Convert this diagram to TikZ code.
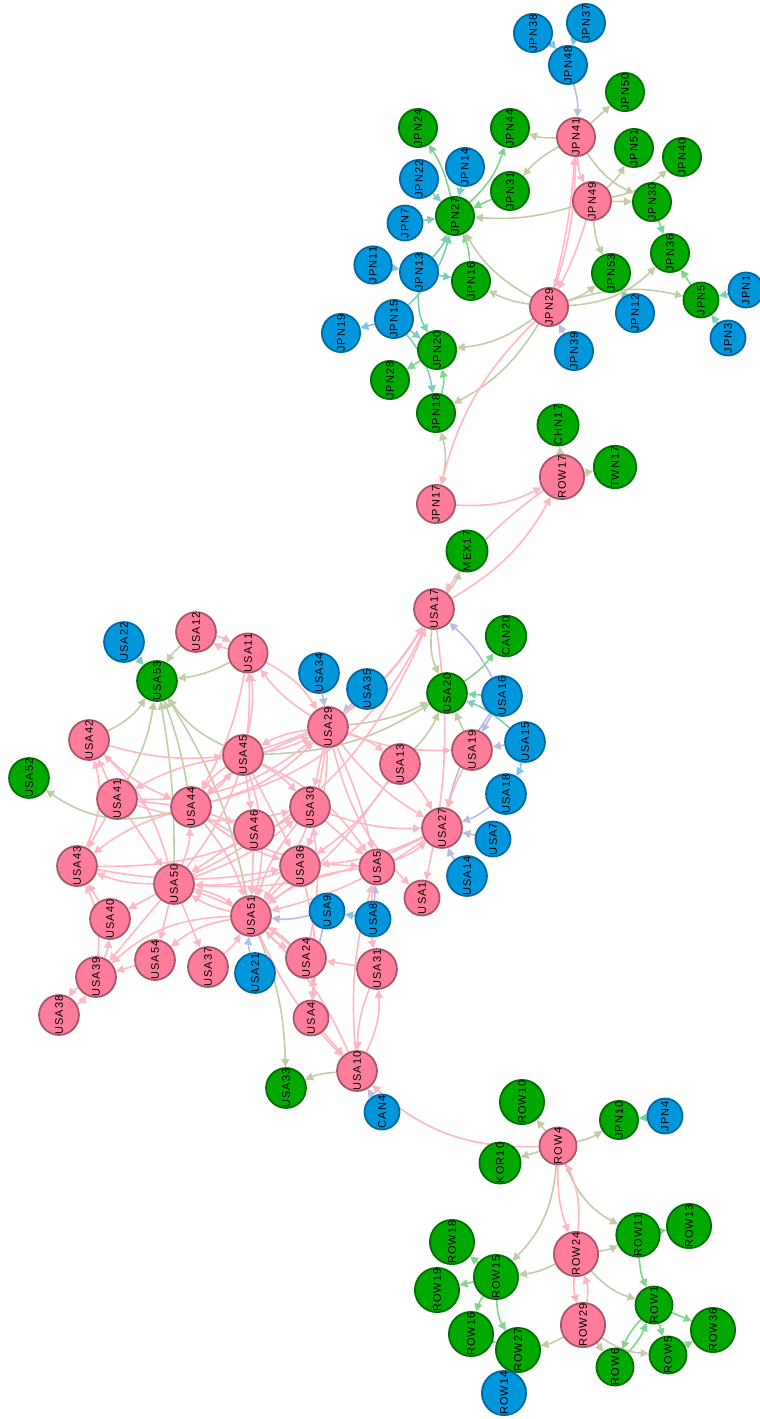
\documentclass[tikz,border=0pt]{standalone}
\usepackage{graphicx}
\usepackage{fontspec}
\newfontfamily\lblfont[LetterSpace=10]{Liberation Sans}
\usetikzlibrary{arrows.meta}
\pgfdeclarelayer{edges}
\pgfsetlayers{edges,main}
\definecolor{pkfill}{RGB}{255,125,155}
\definecolor{pkline}{RGB}{170,85,105}
\definecolor{grfill}{RGB}{0,168,0}
\definecolor{grline}{RGB}{0,112,0}
\definecolor{blfill}{RGB}{0,150,220}
\definecolor{blline}{RGB}{0,105,165}
\definecolor{pkedge}{RGB}{255,183,197}
\definecolor{sgedge}{RGB}{192,206,168}
\definecolor{gredge}{RGB}{128,214,140}
\definecolor{tledge}{RGB}{122,208,182}
\definecolor{lvedge}{RGB}{184,190,224}
\definecolor{bledge}{RGB}{125,196,236}
\tikzset{
  nd/.style={circle,minimum size=35pt,inner sep=0pt,line width=1.8pt,font={\lblfont\fontsize{11}{13}\selectfont}},
  pnode/.style={nd,fill=pkfill,draw=pkline},
  gnode/.style={nd,fill=grfill,draw=grline},
  bnode/.style={nd,fill=blfill,draw=blline},
  ed/.style={line width=1.6pt,-{Triangle[length=8pt,width=8pt]}},
  pe/.style={ed,draw=pkedge},
  ye/.style={ed,draw=sgedge},
  ge/.style={ed,draw=gredge},
  te/.style={ed,draw=tledge},
  le/.style={ed,draw=lvedge},
  be/.style={ed,draw=bledge}
}
\begin{document}
\begin{tikzpicture}[x=1pt,y=-1pt]
\useasboundingbox (0,0) rectangle (760,1419);
\foreach \n/\x/\y in {JPN41/576/137, JPN49/592/201, JPN29/549/307, JPN17/436/504, ROW17/562/477,
  USA12/196/632, USA11/248/653, USA17/434/609, USA29/328/727, USA42/89/740, USA45/243/755,
  USA19/472/750, USA13/400/764, USA41/117/799, USA44/191/807, USA30/310/807, USA27/442/828,
  USA46/254/830, USA43/77/866, USA36/300/866, USA5/377/867, USA50/174/884, USA1/422/898,
  USA51/251/916, USA40/110/919, USA24/306/958, USA54/155/960, USA37/208/967, USA31/377/969,
  USA39/96/977, USA38/59/1015, USA4/311/1018, USA10/357/1071, ROW4/558/1146, ROW24/576/1254,
  ROW29/583/1325}
  \node[pnode] (\n) at (\x,\y) {\rotatebox{90}{\n}};
\foreach \n/\x/\y in {JPN50/625/92, JPN24/418/128, JPN44/510/128, JPN51/634/148, JPN40/682/157,
  JPN31/510/191, JPN30/652/202, JPN27/455/216, JPN36/670/253, JPN16/471/281, JPN53/611/273,
  JPN5/701/300, JPN20/437/350, JPN28/390/380, JPN18/436/413, CHN17/558/425, TWN17/615/467,
  MEX17/467/551, CAN20/506/636, USA53/157/681, USA20/447/693, USA52/29/778, USA33/286/1088,
  ROW10/522/1102, JPN10/619/1120, KOR10/500/1163, ROW13/689/1226, ROW11/638/1235,
  ROW18/452/1242, ROW15/496/1277, ROW19/437/1290, ROW1/654/1305, ROW16/471/1334,
  ROW36/713/1330, ROW27/518/1350, ROW5/668/1355, ROW6/615/1367}
  \node[gnode] (\n) at (\x,\y) {\rotatebox{90}{\n}};
\foreach \n/\x/\y in {JPN38/533/33, JPN37/586/23, JPN48/568/65, JPN14/465/167, JPN22/419/179,
  JPN7/405/223, JPN11/373/265, JPN13/419/272, JPN15/394/319, JPN19/341/333, JPN12/635/313,
  JPN1/746/290, JPN3/728/338, JPN39/574/351, USA22/124/642, USA34/319/673, USA35/367/689,
  USA16/502/696, USA15/525/742, USA18/506/794, USA7/493/839, USA14/467/876, USA9/327/911,
  USA8/373/919, USA21/255/973, CAN4/382/1112, JPN4/665/1116, ROW14/504/1393}
  \node[bnode] (\n) at (\x,\y) {\rotatebox{90}{\n}};
\begin{pgfonlayer}{edges}
\foreach \a/\b/\c in {JPN38/JPN48/10, JPN37/JPN48/-10, JPN11/JPN13/0, JPN15/JPN19/0,
  USA15/USA18/10, USA8/USA9/0}
  \draw[be] (\a) to[bend left=\c] (\b);
\foreach \a/\b/\c in {JPN48/JPN41/10, JPN39/JPN29/0, USA35/USA29/0, USA34/USA29/0,
  USA16/USA17/-10, USA16/USA19/0, USA15/USA19/0, USA16/USA27/-10, USA18/USA27/10,
  USA7/USA27/0, USA14/USA27/10, USA9/USA51/10, USA8/USA5/0, USA21/USA51/10,
  CAN4/USA10/0, USA9/USA4/-5}
  \draw[le] (\a) to[bend left=\c] (\b);
\foreach \a/\b/\c in {JPN22/JPN27/0, JPN14/JPN27/0, JPN7/JPN27/0, JPN13/JPN27/-10,
  JPN15/JPN27/-15, JPN13/JPN16/0, JPN13/JPN20/-15, JPN15/JPN20/0, JPN15/JPN18/15,
  JPN12/JPN53/0, JPN1/JPN5/0, JPN3/JPN5/0, USA22/USA53/0, USA16/USA20/0,
  USA15/USA20/-10, JPN4/JPN10/0, ROW14/ROW27/0}
  \draw[te] (\a) to[bend left=\c] (\b);
\foreach \a/\b/\c in {JPN27/JPN24/-10, JPN27/JPN44/-15, JPN31/JPN27/0, JPN16/JPN27/-10,
  JPN30/JPN36/0, JPN5/JPN36/0, JPN20/JPN28/0, JPN18/JPN20/-15, USA20/CAN20/-10,
  ROW11/ROW13/0, ROW11/ROW1/-10, ROW1/ROW36/0, ROW1/ROW5/0, ROW5/ROW36/0,
  ROW1/ROW6/-10, ROW6/ROW1/-10, ROW15/ROW18/0, ROW15/ROW19/0, ROW15/ROW16/-10,
  ROW15/ROW27/-15, ROW16/ROW27/0}
  \draw[ge] (\a) to[bend left=\c] (\b);
\foreach \a/\b/\c in {JPN41/JPN50/0, JPN41/JPN44/10, JPN41/JPN31/-10, JPN41/JPN30/-15,
  JPN49/JPN51/-10, JPN49/JPN40/-15, JPN49/JPN30/0, JPN49/JPN27/10, JPN49/JPN53/-10,
  JPN29/JPN53/-10, JPN29/JPN36/-20, JPN29/JPN5/15, JPN29/JPN16/10, JPN29/JPN27/15,
  JPN29/JPN20/15, JPN29/JPN18/15, JPN17/JPN18/-15, ROW17/CHN17/0, ROW17/TWN17/0,
  USA17/MEX17/-10, USA12/USA53/-10, USA11/USA53/10, USA45/USA53/15, USA42/USA53/-15,
  USA41/USA53/-10, USA44/USA53/-5, USA50/USA53/-5, USA51/USA53/-10, USA44/USA52/25,
  USA45/USA20/-15, USA29/USA20/-10, USA13/USA20/-10, USA19/USA20/0, USA17/USA20/-15,
  USA51/USA33/10, USA10/USA33/-10, ROW4/ROW10/0, ROW4/JPN10/-10, ROW4/KOR10/0,
  ROW4/ROW11/-20, ROW4/ROW15/20, ROW24/ROW11/-10, ROW24/ROW15/10, ROW24/ROW1/-15,
  ROW29/ROW27/10, ROW29/ROW6/0, ROW29/ROW5/-15}
  \draw[ye] (\a) to[bend left=\c] (\b);
\foreach \a/\b/\c in {JPN41/JPN49/-10, JPN29/JPN41/-5, JPN49/JPN29/5, JPN41/JPN29/8,
  JPN29/JPN17/-15, JPN17/ROW17/-15, USA17/ROW17/-15, ROW17/USA17/-10, ROW4/USA10/22,
  ROW4/ROW24/-10, ROW24/ROW4/-15, ROW24/ROW29/-10, ROW29/ROW24/-15,
  USA12/USA11/10, USA11/USA12/10, USA45/USA11/-10, USA50/USA11/-20, USA11/USA29/15,
  USA29/USA11/10, USA29/USA13/10, USA45/USA17/-20, USA44/USA17/-25, USA50/USA17/-20,
  USA29/USA17/-10, USA13/USA27/5, USA29/USA19/-10, USA19/USA27/-5, USA17/USA1/10,
  USA29/USA1/-15, USA29/USA27/-10, USA5/USA27/-10, USA27/USA51/10, USA27/USA36/10,
  USA27/USA50/15, USA30/USA27/-10, USA5/USA31/-10, USA10/USA31/-15, USA31/USA24/0,
  USA4/USA24/-10, USA36/USA4/10, USA4/USA10/0, USA10/USA51/-10, USA24/USA51/-5,
  USA51/USA24/-10, USA10/USA5/10, USA38/USA39/-15, USA39/USA38/-15, USA39/USA43/-15,
  USA40/USA43/0, USA39/USA40/-10, USA54/USA39/0, USA50/USA39/0, USA50/USA40/0,
  USA50/USA54/0, USA50/USA37/0, USA50/USA43/10, USA41/USA43/0, USA44/USA43/-10,
  USA43/USA42/-20, USA42/USA44/-10, USA41/USA42/0, USA50/USA42/-15, USA44/USA41/0,
  USA45/USA41/-10, USA45/USA44/-10, USA44/USA45/-10, USA50/USA44/-10, USA51/USA39/-20,
  USA51/USA54/-15, USA44/USA51/10, USA45/USA51/15, USA46/USA51/0, USA30/USA51/-10,
  USA36/USA51/0, USA29/USA51/15, USA5/USA51/-15, USA50/USA51/10, USA51/USA50/10,
  USA46/USA50/0, USA45/USA29/-10, USA29/USA45/-10, USA44/USA29/-15, USA29/USA44/-10,
  USA45/USA30/10, USA29/USA30/0, USA45/USA36/0, USA44/USA36/-10, USA29/USA36/10,
  USA45/USA5/15, USA29/USA5/5, USA44/USA5/-15, USA30/USA5/0, USA13/USA36/10,
  USA13/USA51/10, USA41/USA29/-20, USA41/USA30/-15, USA43/USA30/-15, USA50/USA30/-10,
  USA44/USA46/0, USA45/USA46/0, USA41/USA50/0, USA43/USA36/-10, USA36/USA50/10,
  USA24/USA50/-10, USA51/USA10/-10, USA31/USA10/-10, USA24/USA30/-10, USA37/USA51/-10,
  USA42/USA45/-10, USA11/USA44/10}
  \draw[pe] (\a) to[bend left=\c] (\b);
\end{pgfonlayer}
\end{tikzpicture}
\end{document}
